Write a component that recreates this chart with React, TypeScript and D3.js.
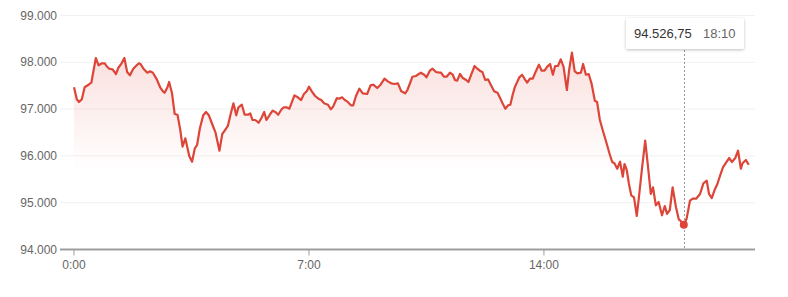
import React from "react";
import * as d3 from "d3";

// minutes since 0:00
const minutes = [
  0, 5, 9, 14, 19, 26, 31, 39, 44, 50, 55, 58, 63, 69, 75, 79, 85, 90, 95, 100,
  106, 112, 116, 119, 125, 131, 136, 141, 148, 154, 159, 162, 167, 170, 175, 180, 185, 190, 194, 199,
  206, 211, 216, 220, 225, 231, 236, 241, 247, 253, 260, 265, 270, 275, 280, 285, 290, 294, 300, 305,
  311, 315, 319, 324, 330, 335, 340, 344, 350, 355, 360, 365, 371, 375, 380, 385, 394, 400, 406, 411,
  416, 420, 425, 431, 437, 442, 447, 454, 459, 463, 470, 474, 479, 484, 488, 495, 499, 504, 510, 516,
  524, 530, 535, 542, 548, 555, 561, 567, 573, 579, 585, 592, 596, 605, 611, 620, 626, 630, 636, 641,
  647, 653, 656, 661, 666, 672, 677, 681, 685, 690, 695, 701, 705, 710, 716, 721, 727, 730, 735, 740,
  745, 751, 757, 761, 766, 771, 776, 780, 784, 788, 796, 801, 806, 810, 815, 820, 825, 831, 836, 841,
  846, 851, 856, 860, 865, 870, 875, 881, 885, 890, 895, 900, 906, 910, 915, 920, 925, 931, 935, 940,
  946, 952, 957, 962, 966, 971, 976, 981, 984, 988, 992, 996, 1001, 1006, 1010, 1015, 1021, 1026, 1031, 1035,
  1040, 1045, 1051, 1056, 1060, 1065, 1070, 1076, 1081, 1085, 1090, 1095, 1101, 1106, 1112, 1119, 1125, 1131, 1135, 1140,
  1145, 1150, 1155, 1160, 1167, 1171, 1176, 1182, 1187, 1192, 1195, 1201, 1206,
];

const values = [
  97466, 97209, 97152, 97209, 97466, 97521, 97564, 98092, 97936, 97979, 97979, 97921, 97863, 97850, 97750, 97878, 97979, 98092, 97793, 97722,
  97863, 97936, 97979, 97964, 97850, 97778, 97807, 97778, 97636, 97466, 97380, 97350, 97466, 97579, 97350, 96895, 96880, 96553, 96197, 96376,
  95998, 95876, 96162, 96233, 96590, 96867, 96938, 96867, 96682, 96496, 96111, 96468, 96553, 96639, 96895, 97124, 96867, 97038, 97094, 96880,
  96880, 96910, 96767, 96767, 96709, 96810, 96938, 96767, 96880, 96966, 96938, 96880, 96996, 97038, 97038, 97009, 97294, 97252, 97194, 97323,
  97380, 97479, 97380, 97280, 97222, 97194, 97124, 97094, 96996, 97051, 97237, 97222, 97252, 97194, 97166, 97081, 97081, 97280, 97436, 97337,
  97323, 97508, 97521, 97451, 97521, 97650, 97593, 97551, 97536, 97551, 97380, 97337, 97408, 97692, 97707, 97778, 97735, 97679, 97821, 97863,
  97793, 97778, 97778, 97692, 97692, 97778, 97735, 97622, 97607, 97750, 97664, 97622, 97579, 97735, 97921, 97863, 97807, 97793, 97622, 97636,
  97521, 97380, 97350, 97252, 97124, 97009, 97081, 97094, 97300, 97470, 97679, 97735, 97636, 97564, 97650, 97650, 97793, 97950, 97821, 97821,
  97907, 97964, 97735, 97921, 97921, 98064, 97907, 97408, 97835, 98205, 97807, 97764, 97778, 97964, 97735, 97750, 97551, 97179, 97152, 96767,
  96510, 96269, 96056, 95870, 95842, 95726, 95876, 95556, 95827, 95699, 95400, 95158, 95115, 94716, 95143, 95699, 96325, 95769, 95186, 95329,
  94944, 95015, 94731, 94929, 94759, 94844, 95329, 94902, 94645, 94603, 94526.75, 94658, 95043, 95086, 95086, 95186, 95414, 95470, 95186, 95100,
  95271, 95400, 95585, 95756, 95885, 95955, 95870, 95955, 96111, 95726, 95842, 95912, 95812,
];

const yTicks = [94000, 95000, 96000, 97000, 98000, 99000];
const xTicks = [0, 420, 840];
const xTickLabels = ["0:00", "7:00", "14:00"];

const tooltipIndex = 210;
const tooltipValue = "94.526,75";
const tooltipTime = "18:10";

const W = 788;
const H = 297;
const FONT = "Arial, 'Liberation Sans', sans-serif";
const RED = "#dd4538";

export default function App() {
  const x = d3.scaleLinear().domain([0, 1206]).range([74, 748.7]);
  const y = d3.scaleLinear().domain([94000, 99000]).range([249.5, 15.5]);
  const plotLeft = 60;
  const plotRight = 755;

  const pts = minutes.map((m, i) => [m, values[i]] as [number, number]);
  const line = d3
    .line<[number, number]>()
    .x((d) => x(d[0]))
    .y((d) => y(d[1]));
  const area = d3
    .area<[number, number]>()
    .x((d) => x(d[0]))
    .y0(y(94000))
    .y1((d) => y(d[1]));

  const fmt = (v: number) => d3.format(",.3f")(v / 1000).replace(",", "");

  const tx = x(minutes[tooltipIndex]);
  const ty = y(values[tooltipIndex]);

  return (
    <svg
      width={W}
      height={H}
      style={{ position: "absolute", left: 0, top: 0, background: "#fff" }}
      fontFamily={FONT}
    >
      <defs>
        <linearGradient id="fillGrad" gradientUnits="userSpaceOnUse" x1={0} y1={y(98200)} x2={0} y2={y(95700)}>
          <stop offset="0%" stopColor={RED} stopOpacity={0.17} />
          <stop offset="100%" stopColor={RED} stopOpacity={0} />
        </linearGradient>
        <filter id="shadow" x="-20%" y="-30%" width="140%" height="180%">
          <feDropShadow dx={0} dy={1} stdDeviation={1.5} floodColor="#000" floodOpacity={0.25} />
        </filter>
      </defs>

      {yTicks.map((t) => (
        <g key={t}>
          {t !== 94000 && (
            <line x1={plotLeft} x2={plotRight} y1={y(t)} y2={y(t)} stroke="#f1f1f1" strokeWidth={1} />
          )}
          <text x={57} y={y(t) + 4} textAnchor="end" fontSize={12} fill="#666">
            {fmt(t)}
          </text>
        </g>
      ))}

      <path d={area(pts) || ""} fill="url(#fillGrad)" />
      <path d={line(pts) || ""} fill="none" stroke={RED} strokeWidth={2.2} strokeLinejoin="round" />

      <line x1={plotLeft} x2={plotRight} y1={y(94000)} y2={y(94000)} stroke="#9e9e9e" strokeWidth={2} />
      {xTicks.map((t, i) => (
        <g key={t}>
          <line x1={x(t)} x2={x(t)} y1={y(94000)} y2={y(94000) + 6} stroke="#9e9e9e" strokeWidth={1} />
          <text x={x(t)} y={269} textAnchor="middle" fontSize={12} fill="#666">
            {xTickLabels[i]}
          </text>
        </g>
      ))}

      <line
        x1={Math.round(tx) + 0.5}
        x2={Math.round(tx) + 0.5}
        y1={50}
        y2={y(94000)}
        stroke="#999"
        strokeWidth={1}
        strokeDasharray="2,2"
      />
      <circle cx={tx} cy={ty} r={4} fill={RED} />

      <g>
        <rect x={626} y={18} width={118} height={31} rx={2} fill="#fff" filter="url(#shadow)" />
        <text x={634} y={38} fontSize={13} fill="#333">
          {tooltipValue}
        </text>
        <text x={703} y={38} fontSize={13} fill="#666">
          {tooltipTime}
        </text>
      </g>
    </svg>
  );
}
